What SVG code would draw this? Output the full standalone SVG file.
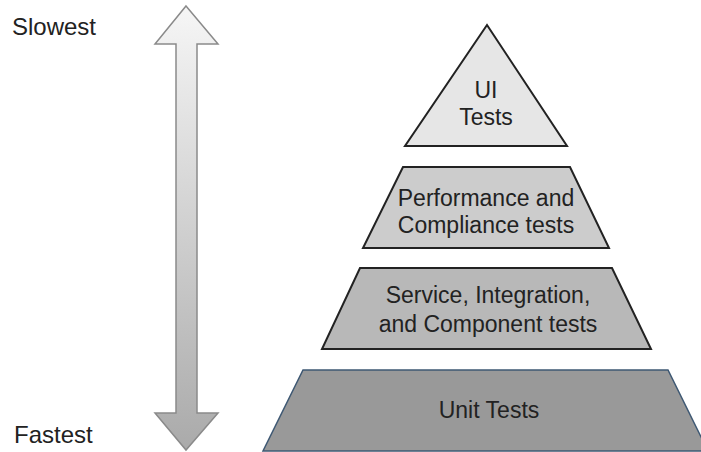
<svg xmlns="http://www.w3.org/2000/svg" width="701" height="452" viewBox="0 0 701 452">
<style>
text{font-family:"Liberation Sans",Arial,Helvetica,sans-serif;font-size:23px;fill:#222;text-anchor:middle}
.side{text-anchor:start;font-size:24px}
.tier{stroke:#222;stroke-width:2;stroke-linejoin:miter}
</style>
<defs>
<linearGradient id="g" x1="0" y1="0" x2="0" y2="1">
<stop offset="0" stop-color="#f6f6f6"/>
<stop offset="1" stop-color="#aaaaaa"/>
</linearGradient>
</defs>
<rect width="701" height="452" fill="#fff"/>
<g id="speed-arrow">
<polygon points="186,6 218,44 197,44 197,413 218,413 186,450 155,413 176,413 176,44 155,44" fill="url(#g)" stroke="#8a8a8a" stroke-width="1.5"/>
</g>
<g id="label-slowest"><text class="side" x="12" y="35">Slowest</text></g>
<g id="label-fastest"><text class="side" x="14" y="443">Fastest</text></g>
<g id="ui-tests">
<polygon class="tier" points="487,25 567,146 405,146" fill="#e6e6e6"/>
<text x="486" y="98">UI</text>
<text x="486" y="125">Tests</text>
</g>
<g id="performance-tests">
<polygon class="tier" points="403,167 570,167 609,248 363,248" fill="#cccccc"/>
<text x="486" y="206">Performance and</text>
<text x="486" y="233">Compliance tests</text>
</g>
<g id="service-tests">
<polygon class="tier" points="360,268 612,268 651,349 322,349" fill="#b8b8b8"/>
<text x="488" y="303">Service, Integration,</text>
<text x="488" y="332">and Component tests</text>
</g>
<g id="unit-tests">
<polygon points="303,370 668,370 708,451 263,451" fill="#999999" stroke="#3e5873" stroke-width="1.5"/>
<text x="489" y="418">Unit Tests</text>
</g>
<g id="connectors"></g>
</svg>
